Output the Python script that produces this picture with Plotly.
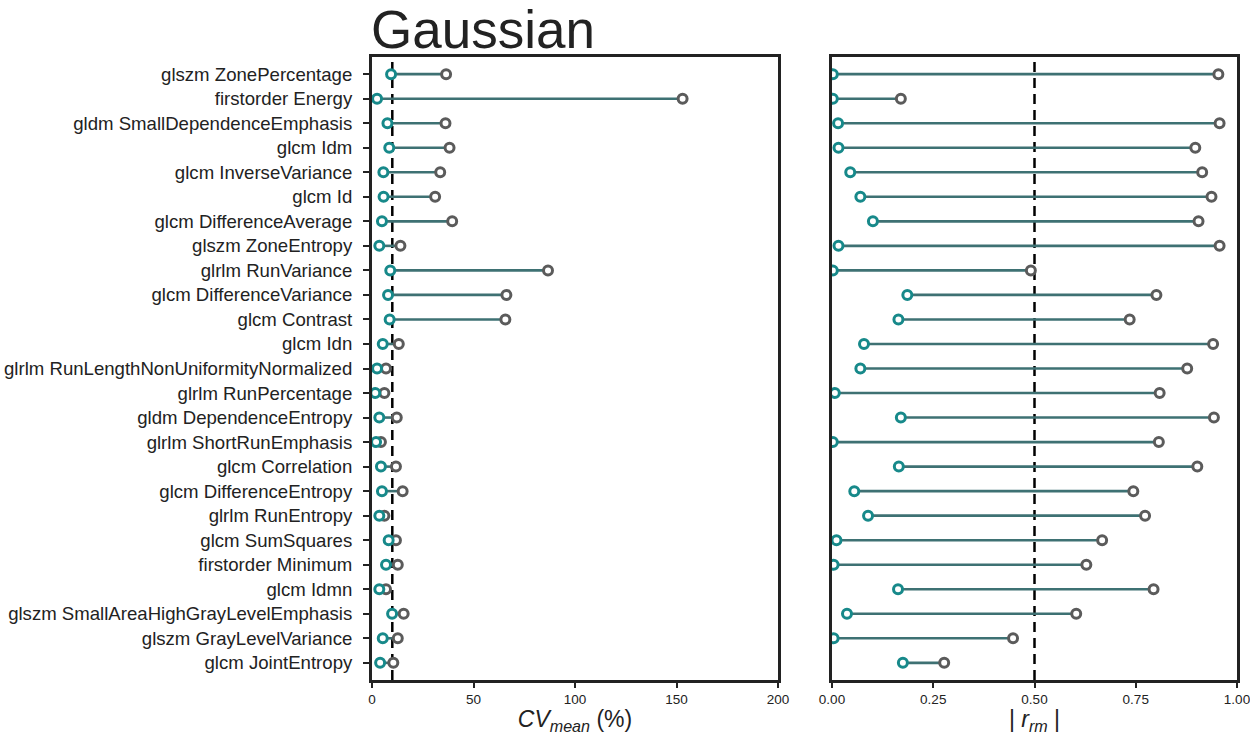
import plotly.graph_objects as go

features = [
    "glszm ZonePercentage", "firstorder Energy", "gldm SmallDependenceEmphasis",
    "glcm Idm", "glcm InverseVariance", "glcm Id", "glcm DifferenceAverage",
    "glszm ZoneEntropy", "glrlm RunVariance", "glcm DifferenceVariance",
    "glcm Contrast", "glcm Idn", "glrlm RunLengthNonUniformityNormalized",
    "glrlm RunPercentage", "gldm DependenceEntropy", "glrlm ShortRunEmphasis",
    "glcm Correlation", "glcm DifferenceEntropy", "glrlm RunEntropy",
    "glcm SumSquares", "firstorder Minimum", "glcm Idmn",
    "glszm SmallAreaHighGrayLevelEmphasis", "glszm GrayLevelVariance", "glcm JointEntropy",
]

cv_teal = [9.4, 2.5, 7.6, 8.5, 5.6, 5.7, 4.9, 3.6, 9.0, 7.9, 8.7, 5.3, 2.5,
           1.6, 3.6, 2.0, 4.4, 4.9, 3.6, 8.2, 6.9, 3.6, 9.9, 5.3, 4.0]
cv_gray = [36.5, 153.0, 36.2, 38.2, 33.6, 31.1, 39.5, 14.0, 86.7, 66.2, 65.7, 13.2, 6.9,
           6.1, 12.2, 4.4, 11.8, 15.1, 6.1, 11.8, 12.7, 6.9, 15.6, 12.7, 10.5]

r_teal = [0.002, 0.002, 0.015, 0.016, 0.045, 0.070, 0.101, 0.016, 0.002, 0.186, 0.164, 0.079, 0.070,
          0.007, 0.170, 0.002, 0.165, 0.055, 0.089, 0.011, 0.004, 0.163, 0.037, 0.004, 0.175]
r_gray = [0.954, 0.170, 0.957, 0.897, 0.914, 0.937, 0.905, 0.957, 0.491, 0.801, 0.735, 0.941, 0.877,
          0.809, 0.943, 0.807, 0.902, 0.744, 0.773, 0.667, 0.628, 0.794, 0.603, 0.447, 0.277]

cv_threshold = 10
r_threshold = 0.5

TEAL = "#17898a"
GRAY = "#5b5b5b"
LINE = "#3e7173"
FONT = "Liberation Sans, Arial, sans-serif"

fig = go.Figure()
idx = list(range(len(features)))

def add_panel(teal, gray, xa, ya):
    lx, ly = [], []
    for i, (a, b) in enumerate(zip(teal, gray)):
        lx += [a, b, None]
        ly += [i, i, None]
    fig.add_trace(go.Scatter(x=lx, y=ly, mode="lines", line=dict(color=LINE, width=2.6),
                             xaxis=xa, yaxis=ya, showlegend=False, hoverinfo="skip"))
    fig.add_trace(go.Scatter(x=gray, y=idx, mode="markers", xaxis=xa, yaxis=ya, showlegend=False,
                             marker=dict(symbol="circle", size=9, color="white",
                                         line=dict(color=GRAY, width=3))))
    fig.add_trace(go.Scatter(x=teal, y=idx, mode="markers", xaxis=xa, yaxis=ya, showlegend=False,
                             marker=dict(symbol="circle", size=9, color="white",
                                         line=dict(color=TEAL, width=3))))

add_panel(cv_teal, cv_gray, "x", "y")
add_panel(r_teal, r_gray, "x2", "y2")

yrange = [len(features) - 0.3, -0.7]
frame = dict(showline=True, mirror=True, linewidth=3, linecolor="#222222", showgrid=False,
             zeroline=False, automargin=False)

fig.update_layout(
    width=1250, height=735,
    margin=dict(l=0, r=0, t=0, b=0),
    paper_bgcolor="white", plot_bgcolor="white",
    font=dict(family=FONT, color="#222222"),
    xaxis=dict(domain=[372/1250, 778/1250], range=[0, 200], tickvals=[0, 50, 100, 150, 200],
               ticks="outside", ticklen=5, tickwidth=2, tickcolor="#222222",
               tickfont=dict(size=13.5), anchor="y", ticklabeloverflow="allow",
               title=dict(text="<i>CV</i><sub><i>mean</i></sub> (%)", font=dict(size=23), standoff=0),
               **frame),
    yaxis=dict(domain=[1 - 680/735, 1 - 57/735], range=yrange, tickvals=idx, ticktext=features,
               ticks="outside", ticklen=6, tickwidth=2, tickcolor="#222222",
               tickfont=dict(size=18.6), ticklabelstandoff=7, anchor="x", **frame),
    xaxis2=dict(domain=[832/1250, 1237/1250], range=[0, 1], tickvals=[0, 0.25, 0.5, 0.75, 1],
                ticktext=["0.00", "0.25", "0.50", "0.75", "1.00"],
                ticks="outside", ticklen=5, tickwidth=2, tickcolor="#222222",
                tickfont=dict(size=13.5), anchor="y2", ticklabeloverflow="allow",
                title=dict(text="| <i>r</i><sub><i>rm</i></sub> |", font=dict(size=23), standoff=0),
                **frame),
    yaxis2=dict(domain=[1 - 680/735, 1 - 57/735], range=yrange, showticklabels=False,
                ticks="", anchor="x2", **frame),
)

fig.add_shape(type="line", xref="x", yref="y domain", x0=cv_threshold, x1=cv_threshold, y0=0, y1=1,
              line=dict(color="black", width=2.5, dash="10px,6px"), layer="below")
fig.add_shape(type="line", xref="x2", yref="y2 domain", x0=r_threshold, x1=r_threshold, y0=0, y1=1,
              line=dict(color="black", width=2.5, dash="10px,6px"), layer="below")

fig.add_annotation(text="Gaussian", xref="paper", yref="paper", x=369/1250, y=1 - 61/735,
                   xanchor="left", yanchor="bottom", showarrow=False,
                   font=dict(size=53, family=FONT, color="#222222"))

fig.write_html("out.html")
